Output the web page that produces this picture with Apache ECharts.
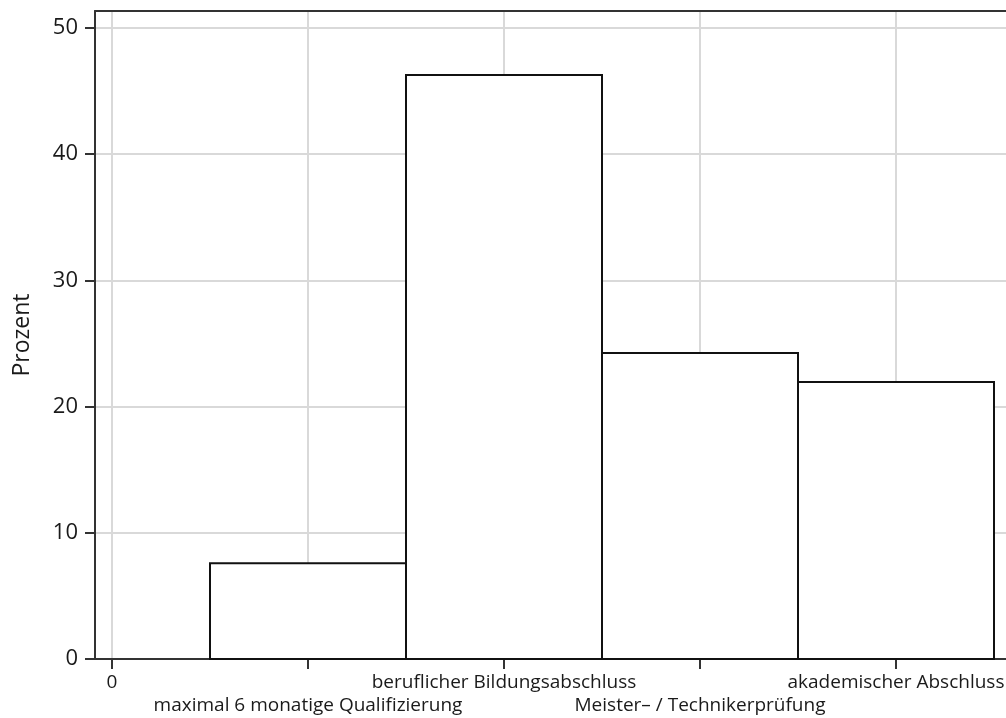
<!DOCTYPE html>
<html>
<head>
<meta charset="utf-8">
<script src="https://cdn.jsdelivr.net/npm/echarts@6/dist/echarts.min.js"></script>
<style>
html,body{margin:0;padding:0;background:#fff;}
#chart{width:1006px;height:718px;}
</style>
</head>
<body>
<div id="chart"></div>
<script>
// Data
const categories = ["maximal 6 monatige Qualifizierung", "beruflicher Bildungsabschluss", "Meister\u2013 / Technikerpr\u00fcfung", "akademischer Abschluss"];
const positions = [1, 2, 3, 4];
const percentages = [7.58, 46.28, 24.25, 21.95];
const xTickValues = [0, 1, 2, 3, 4];
const xTickLabels = ["0", "maximal 6 monatige Qualifizierung", "beruflicher Bildungsabschluss", "Meister\u2013 / Technikerpr\u00fcfung", "akademischer Abschluss"];
const xRow1Values = [0, 2, 4];
const xRow2Values = [1, 3];
const yTickValues = [0, 10, 20, 30, 40, 50];
const yAxisName = "Prozent";

const binWidth = 1;
const chart = echarts.init(document.getElementById('chart'), null, {renderer: 'canvas'});
const FONT = 'Open Sans';
const barData = positions.map((p, i) => [p, percentages[i]]);
const XMIN = -17 / 196, XMAX = (1006 - 112) / 196;
const labelFmt = function (v) { return xTickLabels[xTickValues.indexOf(Math.round(v))]; };
const labelBase = {show: true, showMinLabel: true, showMaxLabel: true, hideOverlap: false, interval: 0,
  color: '#1a1a1a', fontFamily: FONT, fontSize: 19, formatter: labelFmt};

const option = {
  animation: false,
  backgroundColor: '#fff',
  grid: {left: 95, right: 0, top: 11, bottom: 59, containLabel: false, outerBoundsMode: 'none'},
  xAxis: [{
    type: 'value', min: XMIN, max: XMAX, position: 'bottom',
    axisLine: {show: true, onZero: false, lineStyle: {color: '#333', width: 2}},
    axisTick: {show: true, length: 10, customValues: xTickValues, lineStyle: {color: '#333', width: 2}},
    axisLabel: Object.assign({}, labelBase, {customValues: xRow1Values, margin: 14}),
    splitLine: {show: true, lineStyle: {color: '#d9d9d9', width: 2}}
  }, {
    type: 'value', min: XMIN, max: XMAX, position: 'top',
    axisLine: {show: true, onZero: false, lineStyle: {color: '#333', width: 2}},
    axisTick: {show: false}, axisLabel: {show: false}, splitLine: {show: false}
  }, {
    type: 'value', min: XMIN, max: XMAX, position: 'bottom', offset: 0,
    axisLine: {show: false}, axisTick: {show: false, customValues: xRow2Values},
    axisLabel: Object.assign({}, labelBase, {customValues: xRow2Values, margin: 37}),
    splitLine: {show: false}
  }],
  yAxis: {
    type: 'value', min: 0, max: 51.35,
    name: yAxisName, nameLocation: 'middle', nameGap: 61,
    nameTextStyle: {color: '#1a1a1a', fontFamily: FONT, fontSize: 23},
    axisLine: {show: true, onZero: false, lineStyle: {color: '#333', width: 2}},
    axisTick: {show: true, length: 10, customValues: yTickValues, lineStyle: {color: '#333', width: 2}},
    axisLabel: {show: true, customValues: yTickValues, margin: 17, showMinLabel: true, showMaxLabel: true,
      color: '#1a1a1a', fontFamily: FONT, fontSize: 22},
    splitLine: {show: true, lineStyle: {color: '#d9d9d9', width: 2}}
  },
  series: [{
    type: 'custom', xAxisIndex: 0, yAxisIndex: 0, data: barData, z: 3,
    renderItem: function (params, api) {
      const x = api.value(0), y = api.value(1);
      const p0 = api.coord([x - binWidth / 2, y]);
      const p1 = api.coord([x + binWidth / 2, 0]);
      return {
        type: 'rect',
        shape: {x: p0[0], y: p0[1], width: p1[0] - p0[0], height: p1[1] - p0[1]},
        style: {fill: '#fff', stroke: '#111', lineWidth: 2}
      };
    }
  }]
};
chart.setOption(option);
</script>
</body>
</html>
